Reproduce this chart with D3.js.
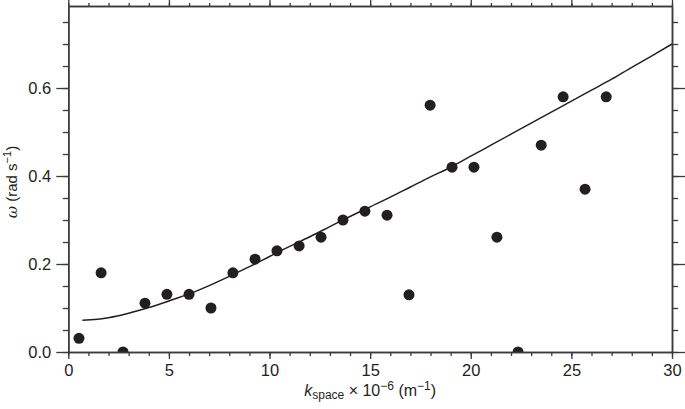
<!DOCTYPE html>
<html><head><meta charset="utf-8">
<script src="https://cdn.jsdelivr.net/npm/d3@7"></script>
<style>body{margin:0;background:#fff}svg{display:block}text{font-family:"Liberation Sans",Arial,sans-serif;fill:#231f20}</style>
</head><body><svg id="c" width="685" height="409"></svg>
<script>
const kValues = [0.53,1.63,2.72,3.81,4.9,6.0,7.09,8.18,9.28,10.37,11.47,12.56,13.65,14.74,15.84,16.93,17.98,19.07,20.16,21.3,22.35,23.5,24.59,25.68,26.73];
const omegaValues = [0.031,0.18,0.0,0.111,0.131,0.131,0.10,0.18,0.211,0.23,0.241,0.261,0.30,0.32,0.311,0.13,0.561,0.42,0.42,0.261,0.0,0.47,0.58,0.37,0.58];
const fitK = [0.7,2,3,4,5,6,7,8,9,10,11,12,13,14,15,16,17,18,19,20,21,22,23,24,25,26,27,28,29,30];
const fitOmega = [0.072,0.078,0.088,0.101,0.116,0.132,0.151,0.172,0.194,0.217,0.24,0.262,0.285,0.308,0.33,0.352,0.375,0.398,0.42,0.445,0.47,0.495,0.52,0.545,0.57,0.595,0.62,0.647,0.673,0.70];
const xTicks = [0,5,10,15,20,25,30];
const yTicks = [0.0,0.2,0.4,0.6];

const svg = d3.select("#c");
const L=68.3, R=672, T=6, B=352;
const x = d3.scaleLinear().domain([0,30]).range([L,R]);
const y = d3.scaleLinear().domain([0,0.7864]).range([B,T]);
const axisColor="#3a3a3a";

svg.append("defs").append("clipPath").attr("id","plot").append("rect")
  .attr("x",L).attr("y",T).attr("width",R-L).attr("height",B-T);

function style(g){g.select(".domain").attr("stroke",axisColor).attr("stroke-width",1.5);
  g.selectAll(".tick line").attr("stroke",axisColor).attr("stroke-width",1.3);
  g.selectAll(".tick text").attr("font-size",16.5).attr("fill","#231f20").style("font-family","Liberation Sans, Arial, sans-serif");}

const minorX = d3.range(0,31,1);
const minorY = d3.range(0,0.78,0.05);

// fit curve
const line = d3.line().x((d,i)=>x(fitK[i])).y((d,i)=>y(fitOmega[i])).curve(d3.curveMonotoneX);
svg.append("path").datum(fitOmega).attr("d",line).attr("fill","none").attr("stroke","#231f20").attr("stroke-width",1.5);

// points
svg.append("g").attr("clip-path","url(#plot)").selectAll("circle").data(kValues).join("circle")
  .attr("cx",d=>x(d)).attr("cy",(d,i)=>y(omegaValues[i])).attr("r",5.5).attr("fill","#231f20");

// bottom
svg.append("g").attr("transform",`translate(0,${B})`).call(d3.axisBottom(x).tickValues(minorX).tickSize(4).tickFormat("").tickSizeOuter(0)).call(style);
svg.append("g").attr("transform",`translate(0,${B})`).call(d3.axisBottom(x).tickValues(xTicks).tickSize(7).tickPadding(5).tickFormat(d3.format("d")).tickSizeOuter(0)).call(style);
// top
svg.append("g").attr("transform",`translate(0,${T})`).call(d3.axisTop(x).tickValues(minorX).tickSize(3).tickFormat("").tickSizeOuter(0)).call(style);
svg.append("g").attr("transform",`translate(0,${T})`).call(d3.axisTop(x).tickValues(xTicks).tickSize(7).tickFormat("").tickSizeOuter(0)).call(style);
// left
svg.append("g").attr("transform",`translate(${L},0)`).call(d3.axisLeft(y).tickValues(minorY).tickSize(5.5).tickFormat("").tickSizeOuter(0)).call(style);
svg.append("g").attr("transform",`translate(${L},0)`).call(d3.axisLeft(y).tickValues(yTicks).tickSize(12).tickPadding(5).tickFormat(d3.format(".1f")).tickSizeOuter(0)).call(style);
// right
svg.append("g").attr("transform",`translate(${R},0)`).call(d3.axisRight(y).tickValues(minorY).tickSize(6).tickFormat("").tickSizeOuter(0)).call(style);
svg.append("g").attr("transform",`translate(${R},0)`).call(d3.axisRight(y).tickValues(yTicks).tickSize(13).tickFormat("").tickSizeOuter(0)).call(style);

// x label
const xl = svg.append("text").attr("x",(L+R)/2).attr("y",396).attr("text-anchor","middle").attr("font-size",16);
xl.append("tspan").text("k").attr("font-style","italic");
xl.append("tspan").text("space").attr("font-size",12).attr("dy",3);
xl.append("tspan").text(" × 10").attr("dy",-3);
xl.append("tspan").text("−6").attr("font-size",12).attr("dy",-6);
xl.append("tspan").text(" (m").attr("dy",6);
xl.append("tspan").text("−1").attr("font-size",12).attr("dy",-6);
xl.append("tspan").text(")").attr("dy",6);

// y label
const yl = svg.append("text").attr("transform",`translate(17,${(T+B)/2+3}) rotate(-90)`).attr("text-anchor","middle").attr("font-size",15);
yl.append("tspan").text("ω").attr("font-style","italic").style("font-family","DejaVu Serif, serif");
yl.append("tspan").text(" (rad s");
yl.append("tspan").text("−1").attr("font-size",11).attr("dy",-6);
yl.append("tspan").text(")").attr("dy",6);
</script></body></html>
